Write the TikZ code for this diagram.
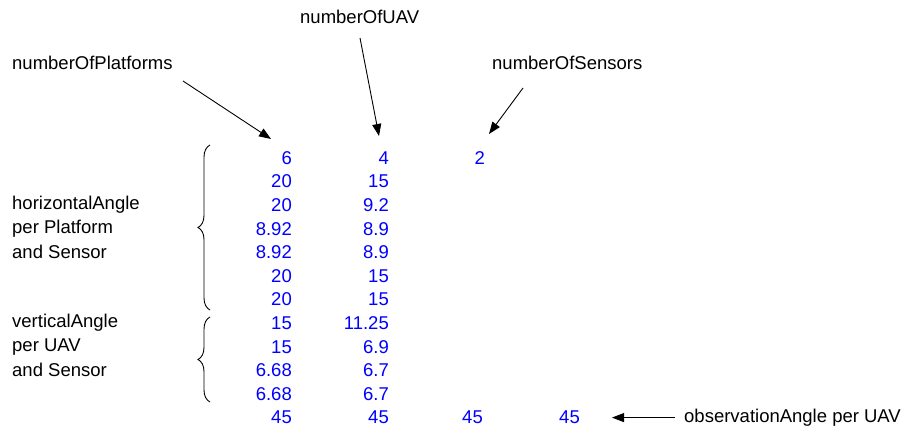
\documentclass[tikz,border=0pt]{standalone}
\usepackage{fontspec}
\setmainfont{Liberation Sans}
\usetikzlibrary{arrows.meta,decorations.pathreplacing}
\definecolor{numblue}{RGB}{0,0,255}
\begin{document}
\begin{tikzpicture}[x=1pt,y=-1pt,
  every node/.style={inner sep=0pt,font=\fontsize{18.5}{22}\selectfont},
  num/.style={anchor=east,text=numblue},
  lbl/.style={anchor=west,text=black},
  arr/.style={-{Triangle[length=12pt,width=9pt]},line width=0.9pt},
  brc/.style={decorate,decoration={brace,amplitude=12pt,raise=0pt},line width=0.9pt}]
\useasboundingbox (0,0) rectangle (915,435);
% column 1
\foreach \v [count=\i from 0] in {6,20,20,8.92,8.92,20,20,15,15,6.68,6.68,45}
  \node[num] (a\i) at (292,158+23.6*\i) {\v};
% column 2
\foreach \v [count=\i from 0] in {4,15,9.2,8.9,8.9,15,15,11.25,6.9,6.7,6.7,45}
  \node[num] (b\i) at (389,158+23.6*\i) {\v};
\node[num] (c0) at (485,158) {2};
\node[num] (c11) at (483,417.6) {45};
\node[num] (d11) at (580,417.6) {45};
% labels
\node[lbl] (lp) at (12,63) {numberOfPlatforms};
\node[lbl] (lu) at (300,17) {numberOfUAV};
\node[lbl] (ls) at (492,63) {numberOfSensors};
\node[lbl] (lo) at (684,417.6) {observationAngle per UAV};
\node[lbl] (h1) at (12,205) {horizontalAngle};
\node[lbl] (h2) at (12,229) {per Platform};
\node[lbl] (h3) at (12,252) {and Sensor};
\node[lbl] (v1) at (12,323) {verticalAngle};
\node[lbl] (v2) at (12,347) {per UAV};
\node[lbl] (v3) at (12,370) {and Sensor};
% arrow endpoints
\coordinate (pS) at (183,81);
\coordinate (pE) at (271,139);
\coordinate (uS) at (360,38);
\coordinate (uE) at (379,136);
\coordinate (sS) at (523,88);
\coordinate (sE) at (489,134);
\coordinate (oS) at (675,417.6);
\coordinate (oE) at (612,417.6);
\draw[arr] (pS) -- (pE);
\draw[arr] (uS) -- (uE);
\draw[arr] (sS) -- (sE);
\draw[arr] (oS) -- (oE);
% braces
\coordinate (b1b) at (210,310);
\coordinate (b1t) at (210,145);
\coordinate (b2b) at (210,402);
\coordinate (b2t) at (210,317);
\draw[brc] (b1b) -- (b1t);
\draw[brc] (b2b) -- (b2t);
\end{tikzpicture}
\end{document}
